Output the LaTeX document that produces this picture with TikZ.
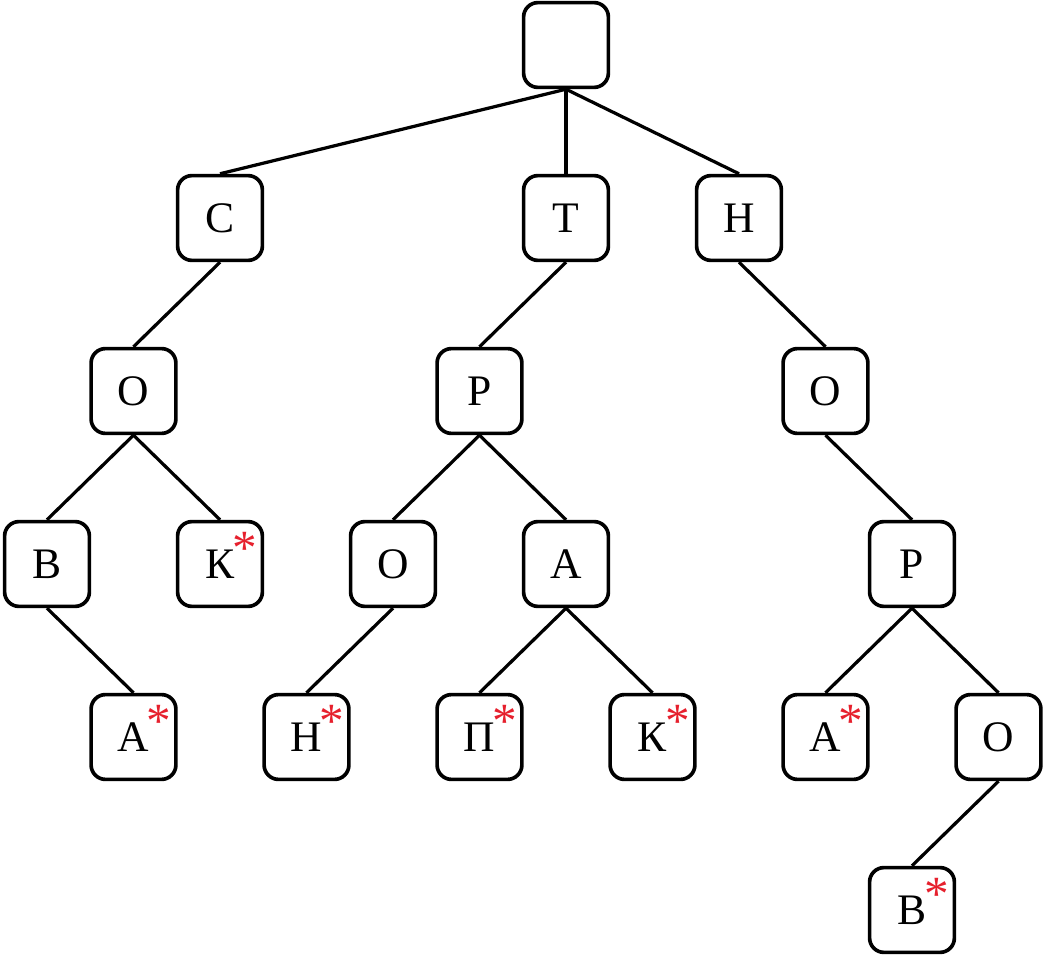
\documentclass[tikz,border=0pt]{standalone}
\usepackage{fontspec}
\setmainfont{Liberation Serif}
\usepackage{xcolor}
\usepackage{tikz}
\definecolor{starred}{RGB}{230,32,45}
\tikzset{trie/.style={draw,line width=2.6pt,rounded corners=0.36cm,minimum size=2.12cm,inner sep=0pt,font=\fontsize{31}{36}\selectfont},
         endmark/.style={inner sep=0pt,text=starred,font=\fontsize{35}{40}\selectfont},
         link/.style={line width=2.3pt}}

\begin{document}
\begin{tikzpicture}[x=2.1625cm,y=-4.325cm]
\useasboundingbox (-0.5434,-0.2601) rectangle (11.526,5.266);
\node[trie] (r) at (6,0) {};
\node[trie] (s) at (2,1) {С};
\node[trie] (t) at (6,1) {Т};
\node[trie] (n) at (8,1) {Н};
\node[trie] (so) at (1,2) {О};
\node[trie] (tr) at (5,2) {Р};
\node[trie] (no) at (9,2) {О};
\node[trie] (sov) at (0,3) {В};
\node[trie] (sok) at (2,3) {К};
\node[trie] (tro) at (4,3) {О};
\node[trie] (tra) at (6,3) {А};
\node[trie] (nor) at (10,3) {Р};
\node[trie] (sova) at (1,4) {А};
\node[trie] (tron) at (3,4) {Н};
\node[trie] (trap) at (5,4) {П};
\node[trie] (trak) at (7,4) {К};
\node[trie] (nora) at (9,4) {А};
\node[trie] (noro) at (11,4) {О};
\node[trie] (norov) at (10,5) {В};
\node[endmark] (sok*) at ([xshift=0.63cm,yshift=0.40cm]sok.center) {*};
\node[endmark] (sova*) at ([xshift=0.63cm,yshift=0.40cm]sova.center) {*};
\node[endmark] (tron*) at ([xshift=0.63cm,yshift=0.40cm]tron.center) {*};
\node[endmark] (trap*) at ([xshift=0.63cm,yshift=0.40cm]trap.center) {*};
\node[endmark] (trak*) at ([xshift=0.63cm,yshift=0.40cm]trak.center) {*};
\node[endmark] (nora*) at ([xshift=0.63cm,yshift=0.40cm]nora.center) {*};
\node[endmark] (norov*) at ([xshift=0.63cm,yshift=0.40cm]norov.center) {*};
\draw[link] (r.south)--(s.north);
\draw[link] (r.south)--(t.north);
\draw[link] (r.south)--(n.north);
\draw[link] (s.south)--(so.north);
\draw[link] (so.south)--(sov.north);
\draw[link] (so.south)--(sok.north);
\draw[link] (sov.south)--(sova.north);
\draw[link] (t.south)--(tr.north);
\draw[link] (tr.south)--(tro.north);
\draw[link] (tr.south)--(tra.north);
\draw[link] (tro.south)--(tron.north);
\draw[link] (tra.south)--(trap.north);
\draw[link] (tra.south)--(trak.north);
\draw[link] (n.south)--(no.north);
\draw[link] (no.south)--(nor.north);
\draw[link] (nor.south)--(nora.north);
\draw[link] (nor.south)--(noro.north);
\draw[link] (noro.south)--(norov.north);
\end{tikzpicture}
\end{document}
